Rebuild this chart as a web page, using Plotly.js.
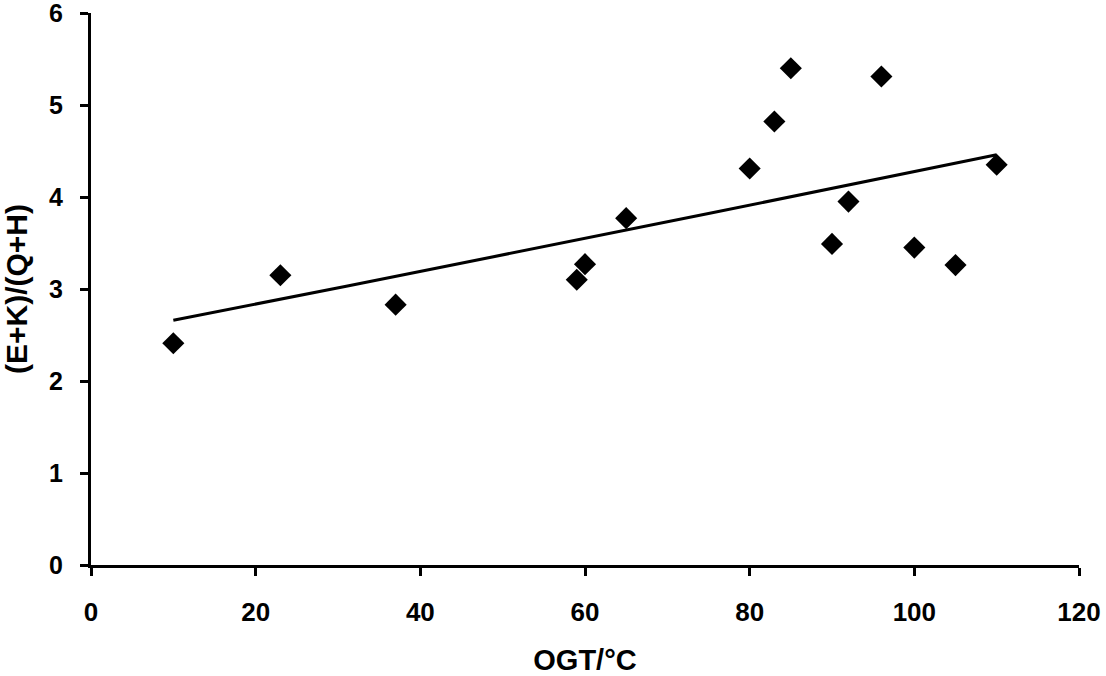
<!DOCTYPE html>
<html>
<head>
<meta charset="utf-8">
<script src="https://cdn.plot.ly/plotly-3.0.1.min.js"></script>
<style>
  html, body { margin: 0; padding: 0; background: #fff; }
  #chart { width: 1106px; height: 676px; }
</style>
</head>
<body>
<div id="chart"></div>
<script>
// measured points
let ogt = [10, 23, 37, 59, 60, 65, 80, 83, 85, 90, 92, 96, 100, 105, 110];
let ratio = [2.41, 3.15, 2.83, 3.10, 3.27, 3.77, 4.31, 4.82, 5.40, 3.49, 3.95, 5.31, 3.45, 3.26, 4.35];

// trend line
let trendX = [10, 31, 75, 110];
let trendY = [2.66, 3.03, 3.82, 4.46];

let xTicks = [0, 20, 40, 60, 80, 100, 120];
let yTicks = [0, 1, 2, 3, 4, 5, 6];

let fontFamily = 'Liberation Sans, Arial, sans-serif';

let data = [
    {
        x: trendX,
        y: trendY,
        type: 'scatter',
        mode: 'lines',
        line: { color: '#000', width: 3 },
        hoverinfo: 'skip'
    },
    {
        x: ogt,
        y: ratio,
        type: 'scatter',
        mode: 'markers',
        marker: { symbol: 'diamond', size: 17, color: '#000' }
    }
];

let layout = {
    width: 1106,
    height: 676,
    showlegend: false,
    paper_bgcolor: '#fff',
    plot_bgcolor: '#fff',
    font: { family: fontFamily, size: 26, color: '#000' },
    margin: { l: 91, r: 27, t: 13, b: 111 },
    xaxis: {
        range: [0, 120],
        tickvals: xTicks,
        ticktext: xTicks.map(String),
        showgrid: false,
        zeroline: false,
        showline: true,
        linecolor: '#000',
        linewidth: 3,
        ticks: 'outside',
        ticklen: 8,
        tickwidth: 3,
        tickcolor: '#000',
        ticklabelstandoff: 14,
        ticklabeloverflow: 'allow',
        tickfont: { family: fontFamily, size: 26, weight: 'bold' },
        automargin: false,
        title: {
            text: '<b>OGT/°C</b>',
            font: { family: fontFamily, size: 29 },
            standoff: 24
        }
    },
    yaxis: {
        range: [0, 6],
        tickvals: yTicks,
        ticktext: yTicks.map(String),
        showgrid: false,
        zeroline: false,
        showline: true,
        linecolor: '#000',
        linewidth: 3,
        ticks: 'outside',
        ticklen: 8,
        tickwidth: 3,
        tickcolor: '#000',
        ticklabelstandoff: 12,
        ticklabeloverflow: 'allow',
        tickfont: { family: fontFamily, size: 25, weight: 'bold' },
        automargin: false,
        title: {
            text: '<b>(E+K)/(Q+H)</b>',
            font: { family: fontFamily, size: 30 },
            standoff: 22
        }
    }
};

Plotly.newPlot('chart', data, layout, { displayModeBar: false, staticPlot: true });
</script>
</body>
</html>
